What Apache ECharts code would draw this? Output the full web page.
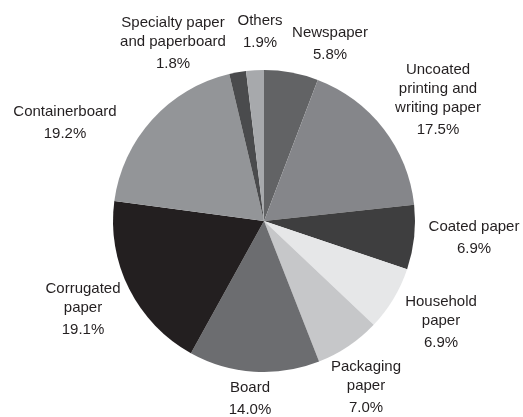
<!DOCTYPE html>
<html>
<head>
<meta charset="utf-8">
<script src="https://cdn.jsdelivr.net/npm/echarts@6/dist/echarts.min.js"></script>
<style>
  html, body { margin: 0; padding: 0; background: #ffffff; }
  #chart { width: 523px; height: 417px; }
</style>
</head>
<body>
<div id="chart"></div>
<script>
// Paper and paperboard production by grade (share, %)
const categories = [
  'Newspaper',
  'Uncoated\nprinting and\nwriting paper',
  'Coated paper',
  'Household\npaper',
  'Packaging\npaper',
  'Board',
  'Corrugated\npaper',
  'Containerboard',
  'Specialty paper\nand paperboard',
  'Others'
];
const shares = [5.8, 17.5, 6.9, 6.9, 7.0, 14.0, 19.1, 19.2, 1.8, 1.9];

// Grey shade for each grade
const sliceColors = [
  '#626365', '#85868a', '#3e3e3f', '#e6e7e8', '#c6c7c9',
  '#6c6d70', '#231f20', '#939598', '#4a4b4d', '#a7a9ac'
];

// Anchor (centre x, top y) of each label block
const labelAnchors = [
  [330, 23.5], [438, 60.5], [474, 217.5], [441, 292.5], [366, 357.5],
  [250, 378.5], [83, 279.5], [65, 102.5], [173, 13.5], [260, 11.5]
];

const chart = echarts.init(document.getElementById('chart'), null, { renderer: 'canvas' });

chart.setOption({
  animation: false,
  backgroundColor: '#ffffff',
  series: [{
    type: 'pie',
    center: [264, 221],
    radius: [0, 151],
    startAngle: 90,
    clockwise: true,
    avoidLabelOverlap: false,
    data: categories.map((name, i) => ({
      name: name,
      value: shares[i],
      itemStyle: { color: sliceColors[i] }
    })),
    itemStyle: { borderWidth: 0 },
    label: {
      show: true,
      position: 'outside',
      formatter: p => '{n|' + p.name + '}\n{p|' + p.value.toFixed(1) + '%}',
      fontFamily: '"Liberation Sans", Arial, sans-serif',
      color: '#231f20',
      rich: {
        n: { fontSize: 15, lineHeight: 19, color: '#231f20', align: 'center',
             fontFamily: '"Liberation Sans", Arial, sans-serif' },
        p: { fontSize: 15, lineHeight: 25, color: '#231f20', align: 'center',
             fontFamily: '"Liberation Sans", Arial, sans-serif' }
      }
    },
    labelLine: { show: false },
    labelLayout: params => ({
      x: labelAnchors[params.dataIndex][0],
      y: labelAnchors[params.dataIndex][1],
      align: 'center',
      verticalAlign: 'top'
    }),
    emphasis: { disabled: true }
  }]
});
</script>
</body>
</html>
